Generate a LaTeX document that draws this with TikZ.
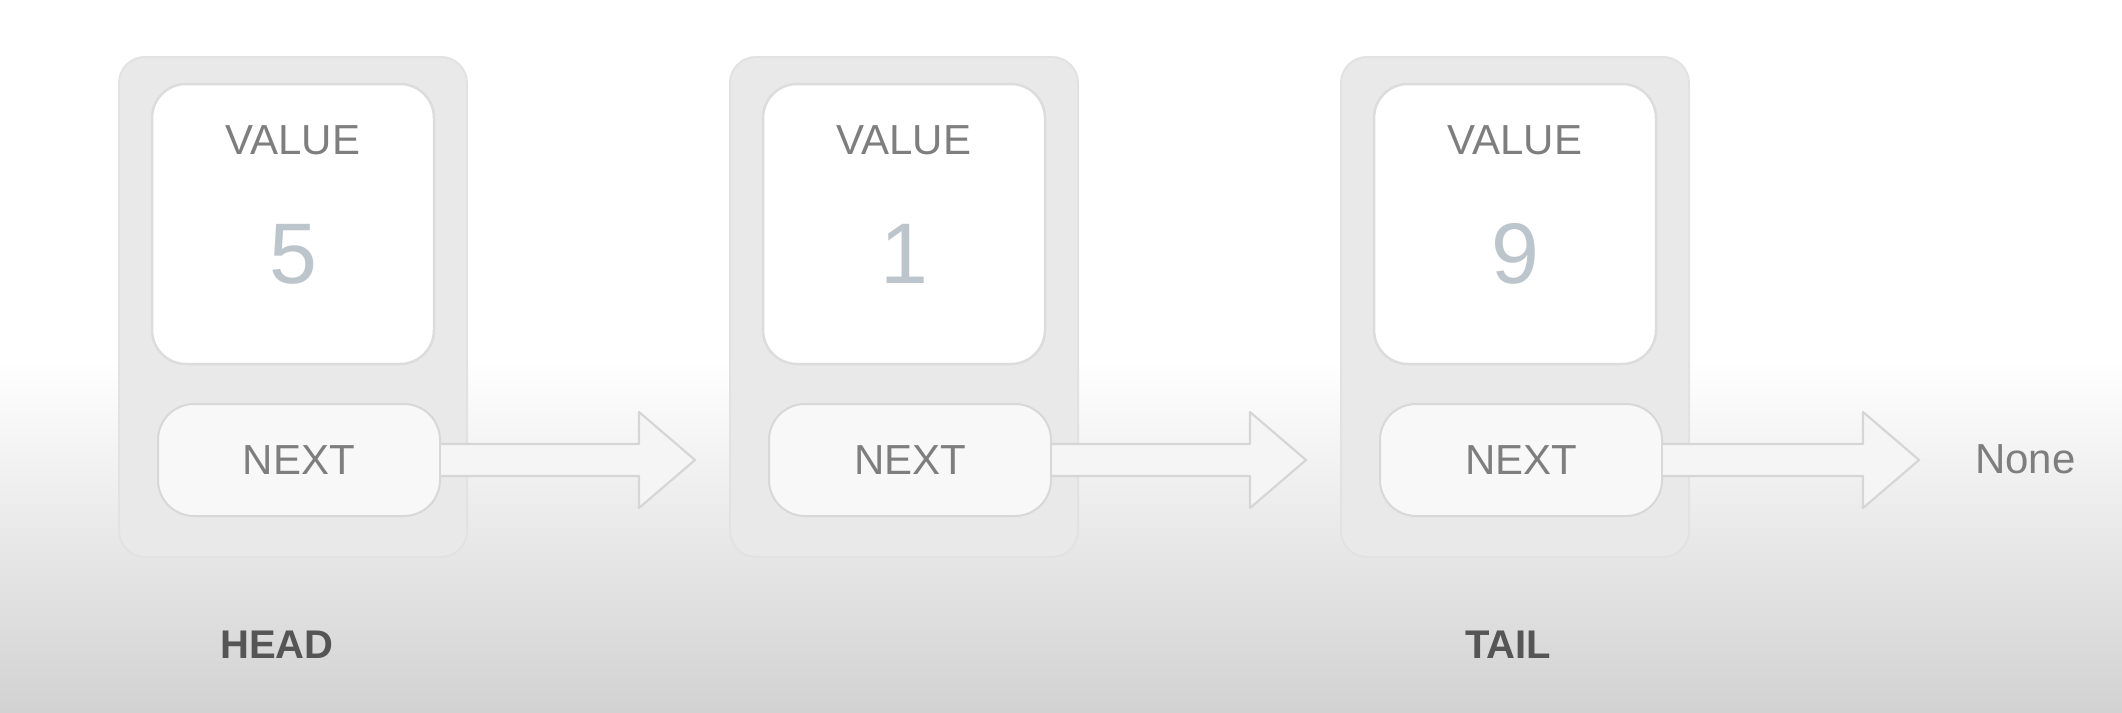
\documentclass[tikz,border=0pt]{standalone}
\usepackage{fontspec}
\setmainfont{Liberation Sans}
\usetikzlibrary{calc}

\definecolor{bgbot}{HTML}{D2D2D2}
\definecolor{outerfill}{HTML}{E9E9E9}
\definecolor{outerline}{HTML}{E2E2E2}
\definecolor{valline}{HTML}{DCDCDC}
\definecolor{nextfill}{HTML}{F8F8F8}
\definecolor{nextline}{HTML}{D8D8D8}
\definecolor{labelgray}{HTML}{7E7E7E}
\definecolor{numgray}{HTML}{BCC4CC}
\definecolor{tagtext}{HTML}{555555}
\definecolor{arrowline}{HTML}{D6D6D6}
\definecolor{arrowfill}{HTML}{F5F5F5}

\tikzset{
  outerbox/.style={draw=outerline, fill=outerfill, line width=2pt,
    rounded corners=26pt, minimum width=348pt, minimum height=500pt, inner sep=0pt},
  valuebox/.style={draw=valline, fill=white, line width=2.5pt,
    rounded corners=34pt, minimum width=282pt, minimum height=280pt, inner sep=0pt},
  nextbox/.style={draw=nextline, fill=nextfill, line width=2pt,
    rounded corners=36pt, minimum width=282pt, minimum height=112pt, inner sep=0pt},
  fieldlabel/.style={text=labelgray, font=\fontsize{42}{44}\selectfont, inner sep=0pt},
  numlabel/.style={text=numgray, font=\fontsize{86}{88}\selectfont, inner sep=0pt},
  taglabel/.style={text=tagtext, font=\bfseries\fontsize{40}{42}\selectfont, inner sep=0pt},
  linkarrow/.style={draw=arrowline, fill=arrowfill, line width=2.2pt, line join=round},
}

% hollow block arrow from #1 to the tip #2 (horizontal)
\newcommand{\linkarrow}[2]{%
  \draw[linkarrow] let \p1=(#1), \p2=(#2) in
    (\x1,\y1+16pt) -- (\x2-56pt,\y1+16pt) -- (\x2-56pt,\y1+48pt) -- (\x2,\y1)
    -- (\x2-56pt,\y1-48pt) -- (\x2-56pt,\y1-16pt) -- (\x1,\y1-16pt);
}

\begin{document}
\begin{tikzpicture}[x=1pt,y=-1pt]
  \useasboundingbox (0,0) rectangle (2122,712);
  % backdrop: white fading to light grey at the bottom
  \fill[white] (0,0) rectangle (2122,712);
  \shade[top color=white, bottom color=bgbot] (0,360) rectangle (2122,712);

  % list nodes
  \foreach \i/\cx/\val in {1/293/5, 2/904/1, 3/1515/9} {
    \node[outerbox] (o\i) at (\cx,307) {};
    \node[valuebox] (v\i) at (\cx,224) {};
    \node[fieldlabel] (vl\i) at (\cx,140) {VALUE};
    \node[numlabel] (num\i) at (\cx,254) {\val};
    \node[nextbox] (nx\i) at (\cx+6,460) {};
    \node[fieldlabel] (nl\i) at (nx\i) {NEXT};
  }

  % end marker and pointer labels
  \node[fieldlabel, anchor=west] (none) at (1975,459) {None};
  \node[taglabel] (head) at (277,645) {HEAD};
  \node[taglabel] (tail) at (1508,645) {TAIL};

  % tips of the link arrows
  \coordinate (t1) at ($(o2.west |- nx1.east)+(-34,0)$);
  \coordinate (t2) at ($(o3.west |- nx2.east)+(-34,0)$);
  \coordinate (t3) at ($(none.west)+(-56,0)$);

  \linkarrow{nx1.east}{t1}
  \linkarrow{nx2.east}{t2}
  \linkarrow{nx3.east}{t3}
\end{tikzpicture}
\end{document}
